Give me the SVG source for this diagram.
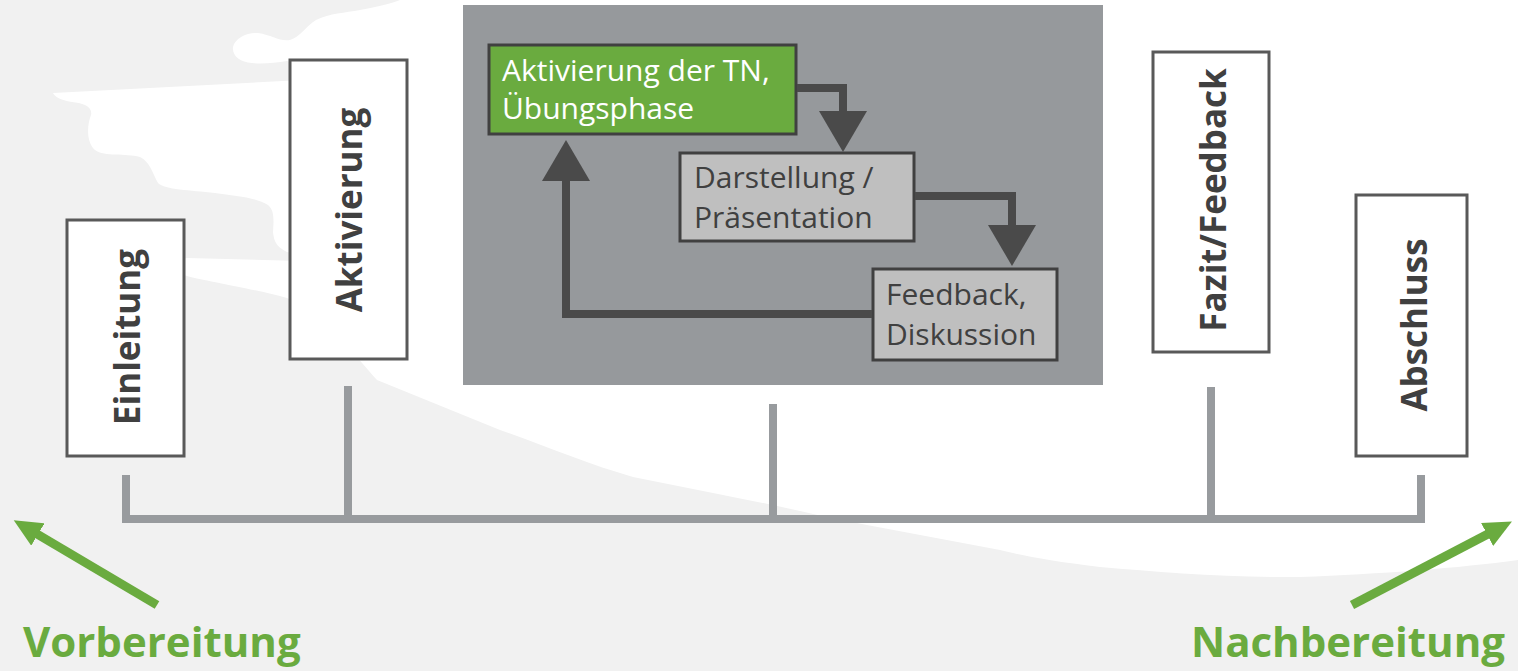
<svg xmlns="http://www.w3.org/2000/svg" width="1518" height="671" viewBox="0 0 1518 671">
<defs>
<style>
.lbl{fill:#fff;stroke:#595959;stroke-width:3}
.vt{font-family:"Open Sans","Liberation Sans",sans-serif;font-weight:700;font-size:35px;fill:#404040;text-anchor:middle}
.it{font-family:"Open Sans","Liberation Sans",sans-serif;font-size:30px;fill:#404040}
.gt{font-family:"Open Sans","Liberation Sans",sans-serif;font-weight:700;font-size:42px;fill:#6aab3f}
.tl{stroke:#989b9e;stroke-width:8;fill:none}
.da{stroke:#4a4a4a;stroke-width:8;fill:none;stroke-linejoin:miter}
.ga{stroke:#6aab3f;stroke-width:9;fill:none}
</style>
<marker id="dh" markerUnits="userSpaceOnUse" markerWidth="42" markerHeight="48" refX="1" refY="24" orient="auto" viewBox="0 0 42 48">
<path d="M0,0 L41,24 L0,48 Z" fill="#4a4a4a"/>
</marker>
<marker id="gh" markerUnits="userSpaceOnUse" markerWidth="29" markerHeight="26" refX="1" refY="13" orient="auto" viewBox="0 0 29 26">
<path d="M0,0 L28,13 L0,26 Z" fill="#6aab3f"/>
</marker>
</defs>
<rect x="0" y="0" width="1518" height="671" fill="#f1f1f1"/>
<path fill="#ffffff" d="M400,0 L1518,0 L1518,560 C1460,568 1380,574 1300,577 C1230,578 1160,572 1100,567 C1050,561 1020,555 1000,550 L867,525 C830,518 800,511 773,505 L633,477 C590,465 545,446 500,430 L377,380 C350,350 320,310 287,298 C250,288 205,281 187,276 L150,266 L187,258 L340,262 L287,252 C275,246 274,240 273,232 C274,218 274,210 268,205 C255,197 235,196 215,193 C190,190 165,190 158,183 C152,172 150,162 140,157 C125,153 105,157 95,150 C86,142 87,125 91,115 C93,106 82,103 72,102 C60,100 55,97 53,93 L340,78 L287,61 C275,63 262,64 252,63 C240,62 232,56 233,47 C235,38 247,32 258,33 C272,35 280,42 290,40 C300,37 306,26 316,20 C330,13 345,13 360,10 C378,7 392,3 400,0 Z"/>
<g id="connectors">
<line class="tl" x1="122" y1="519" x2="1425" y2="519"/>
<line class="tl" x1="126" y1="475" x2="126" y2="519"/>
<line class="tl" x1="348" y1="386" x2="348" y2="519"/>
<line class="tl" x1="773" y1="404" x2="773" y2="519"/>
<line class="tl" x1="1211" y1="387" x2="1211" y2="519"/>
<line class="tl" x1="1421" y1="475" x2="1421" y2="519"/>
<line class="ga" x1="157" y1="605" x2="37" y2="534" marker-end="url(#gh)"/>
<line class="ga" x1="1352" y1="605" x2="1488" y2="534" marker-end="url(#gh)"/>
</g>
<g id="einleitung">
<rect class="lbl" x="67" y="220" width="117" height="236"/>
<text class="vt" transform="translate(140,337) rotate(-90)">Einleitung</text>
</g>
<g id="aktivierung">
<rect class="lbl" x="290" y="60" width="117" height="299"/>
<text class="vt" transform="translate(362,210) rotate(-90)">Aktivierung</text>
</g>
<g id="fazit">
<rect class="lbl" x="1153" y="52" width="116" height="300"/>
<text class="vt" transform="translate(1226,200) rotate(-90)">Fazit/Feedback</text>
</g>
<g id="abschluss">
<rect class="lbl" x="1356" y="195" width="111" height="261"/>
<text class="vt" transform="translate(1427,325) rotate(-90)">Abschluss</text>
</g>
<g id="phase">
<rect x="463" y="5" width="640" height="380" fill="#96999c"/>
</g>
<g id="uebung">
<rect x="489" y="45" width="307" height="89" fill="#6aab3f" stroke="#404040" stroke-width="3"/>
<text class="it" x="502" y="81" fill="#ffffff" style="fill:#ffffff">Aktivierung der TN,</text>
<text class="it" x="502" y="119" style="fill:#ffffff">Übungsphase</text>
</g>
<g id="darstellung">
<rect x="680" y="153" width="234" height="88" fill="#bfbfbf" stroke="#404040" stroke-width="3"/>
<text class="it" x="694" y="188">Darstellung /</text>
<text class="it" x="694" y="228">Präsentation</text>
</g>
<g id="feedback">
<rect x="873" y="269" width="184" height="91" fill="#bfbfbf" stroke="#404040" stroke-width="3"/>
<text class="it" x="886" y="305">Feedback,</text>
<text class="it" x="886" y="345">Diskussion</text>
</g>
<g id="loop-connectors">
<path class="da" d="M797,88 H843 V112" marker-end="url(#dh)"/>
<path class="da" d="M915,196 H1012 V226" marker-end="url(#dh)"/>
<path class="da" d="M872,314 H566 V180" marker-end="url(#dh)"/>
</g>
<g id="vorbereitung">
<text class="gt" x="23" y="657">Vorbereitung</text>
</g>
<g id="nachbereitung">
<text class="gt" x="1505" y="657" text-anchor="end">Nachbereitung</text>
</g>
</svg>
